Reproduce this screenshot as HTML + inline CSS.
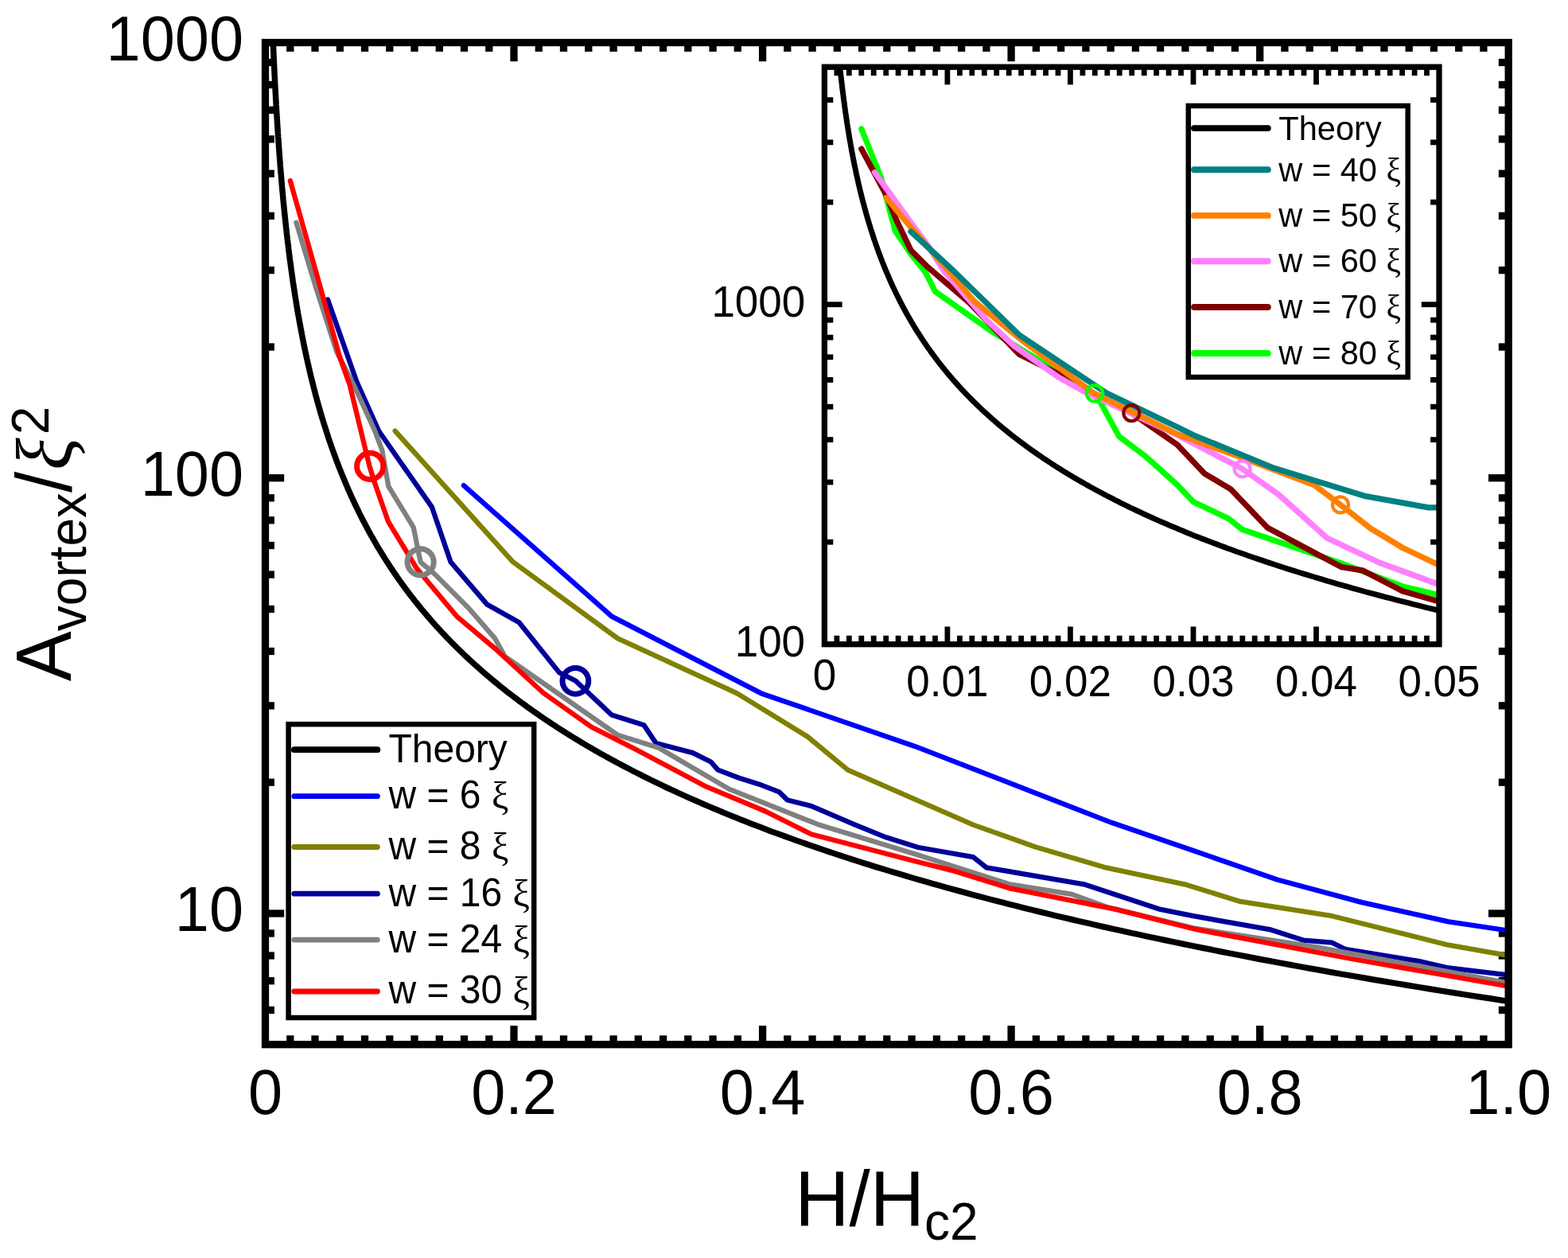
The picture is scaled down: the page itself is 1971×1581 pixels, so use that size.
<!DOCTYPE html>
<html><head><meta charset="utf-8"><title>A_vortex vs H/Hc2</title>
<style>
html,body{margin:0;padding:0;background:#fff;}
body{width:1971px;height:1581px;overflow:hidden;}
svg{display:block;}
</style></head>
<body>
<svg width="1971" height="1581" viewBox="0 0 1971 1581">
<defs>
<clipPath id="mclip"><rect x="333.5" y="53.5" width="1562.7" height="1259.2"/></clipPath>
<clipPath id="iclip"><rect x="1036.4" y="84.2" width="772.6" height="725.5"/></clipPath>
</defs>
<rect width="1971" height="1581" fill="#fff"/>
<line x1="364.8" y1="1312.7" x2="364.8" y2="1301.3" stroke="#000" stroke-width="9.3" stroke-linecap="butt"/>
<line x1="364.8" y1="53.5" x2="364.8" y2="64.9" stroke="#000" stroke-width="9.3" stroke-linecap="butt"/>
<line x1="396" y1="1312.7" x2="396" y2="1301.3" stroke="#000" stroke-width="9.3" stroke-linecap="butt"/>
<line x1="396" y1="53.5" x2="396" y2="64.9" stroke="#000" stroke-width="9.3" stroke-linecap="butt"/>
<line x1="427.3" y1="1312.7" x2="427.3" y2="1301.3" stroke="#000" stroke-width="9.3" stroke-linecap="butt"/>
<line x1="427.3" y1="53.5" x2="427.3" y2="64.9" stroke="#000" stroke-width="9.3" stroke-linecap="butt"/>
<line x1="458.5" y1="1312.7" x2="458.5" y2="1301.3" stroke="#000" stroke-width="9.3" stroke-linecap="butt"/>
<line x1="458.5" y1="53.5" x2="458.5" y2="64.9" stroke="#000" stroke-width="9.3" stroke-linecap="butt"/>
<line x1="489.8" y1="1312.7" x2="489.8" y2="1301.3" stroke="#000" stroke-width="9.3" stroke-linecap="butt"/>
<line x1="489.8" y1="53.5" x2="489.8" y2="64.9" stroke="#000" stroke-width="9.3" stroke-linecap="butt"/>
<line x1="521" y1="1312.7" x2="521" y2="1301.3" stroke="#000" stroke-width="9.3" stroke-linecap="butt"/>
<line x1="521" y1="53.5" x2="521" y2="64.9" stroke="#000" stroke-width="9.3" stroke-linecap="butt"/>
<line x1="552.3" y1="1312.7" x2="552.3" y2="1301.3" stroke="#000" stroke-width="9.3" stroke-linecap="butt"/>
<line x1="552.3" y1="53.5" x2="552.3" y2="64.9" stroke="#000" stroke-width="9.3" stroke-linecap="butt"/>
<line x1="583.5" y1="1312.7" x2="583.5" y2="1301.3" stroke="#000" stroke-width="9.3" stroke-linecap="butt"/>
<line x1="583.5" y1="53.5" x2="583.5" y2="64.9" stroke="#000" stroke-width="9.3" stroke-linecap="butt"/>
<line x1="614.8" y1="1312.7" x2="614.8" y2="1301.3" stroke="#000" stroke-width="9.3" stroke-linecap="butt"/>
<line x1="614.8" y1="53.5" x2="614.8" y2="64.9" stroke="#000" stroke-width="9.3" stroke-linecap="butt"/>
<line x1="646" y1="1312.7" x2="646" y2="1289" stroke="#000" stroke-width="9.3" stroke-linecap="butt"/>
<line x1="646" y1="53.5" x2="646" y2="77.2" stroke="#000" stroke-width="9.3" stroke-linecap="butt"/>
<line x1="677.3" y1="1312.7" x2="677.3" y2="1301.3" stroke="#000" stroke-width="9.3" stroke-linecap="butt"/>
<line x1="677.3" y1="53.5" x2="677.3" y2="64.9" stroke="#000" stroke-width="9.3" stroke-linecap="butt"/>
<line x1="708.5" y1="1312.7" x2="708.5" y2="1301.3" stroke="#000" stroke-width="9.3" stroke-linecap="butt"/>
<line x1="708.5" y1="53.5" x2="708.5" y2="64.9" stroke="#000" stroke-width="9.3" stroke-linecap="butt"/>
<line x1="739.8" y1="1312.7" x2="739.8" y2="1301.3" stroke="#000" stroke-width="9.3" stroke-linecap="butt"/>
<line x1="739.8" y1="53.5" x2="739.8" y2="64.9" stroke="#000" stroke-width="9.3" stroke-linecap="butt"/>
<line x1="771.1" y1="1312.7" x2="771.1" y2="1301.3" stroke="#000" stroke-width="9.3" stroke-linecap="butt"/>
<line x1="771.1" y1="53.5" x2="771.1" y2="64.9" stroke="#000" stroke-width="9.3" stroke-linecap="butt"/>
<line x1="802.3" y1="1312.7" x2="802.3" y2="1301.3" stroke="#000" stroke-width="9.3" stroke-linecap="butt"/>
<line x1="802.3" y1="53.5" x2="802.3" y2="64.9" stroke="#000" stroke-width="9.3" stroke-linecap="butt"/>
<line x1="833.6" y1="1312.7" x2="833.6" y2="1301.3" stroke="#000" stroke-width="9.3" stroke-linecap="butt"/>
<line x1="833.6" y1="53.5" x2="833.6" y2="64.9" stroke="#000" stroke-width="9.3" stroke-linecap="butt"/>
<line x1="864.8" y1="1312.7" x2="864.8" y2="1301.3" stroke="#000" stroke-width="9.3" stroke-linecap="butt"/>
<line x1="864.8" y1="53.5" x2="864.8" y2="64.9" stroke="#000" stroke-width="9.3" stroke-linecap="butt"/>
<line x1="896.1" y1="1312.7" x2="896.1" y2="1301.3" stroke="#000" stroke-width="9.3" stroke-linecap="butt"/>
<line x1="896.1" y1="53.5" x2="896.1" y2="64.9" stroke="#000" stroke-width="9.3" stroke-linecap="butt"/>
<line x1="927.3" y1="1312.7" x2="927.3" y2="1301.3" stroke="#000" stroke-width="9.3" stroke-linecap="butt"/>
<line x1="927.3" y1="53.5" x2="927.3" y2="64.9" stroke="#000" stroke-width="9.3" stroke-linecap="butt"/>
<line x1="958.6" y1="1312.7" x2="958.6" y2="1289" stroke="#000" stroke-width="9.3" stroke-linecap="butt"/>
<line x1="958.6" y1="53.5" x2="958.6" y2="77.2" stroke="#000" stroke-width="9.3" stroke-linecap="butt"/>
<line x1="989.8" y1="1312.7" x2="989.8" y2="1301.3" stroke="#000" stroke-width="9.3" stroke-linecap="butt"/>
<line x1="989.8" y1="53.5" x2="989.8" y2="64.9" stroke="#000" stroke-width="9.3" stroke-linecap="butt"/>
<line x1="1021.1" y1="1312.7" x2="1021.1" y2="1301.3" stroke="#000" stroke-width="9.3" stroke-linecap="butt"/>
<line x1="1021.1" y1="53.5" x2="1021.1" y2="64.9" stroke="#000" stroke-width="9.3" stroke-linecap="butt"/>
<line x1="1052.3" y1="1312.7" x2="1052.3" y2="1301.3" stroke="#000" stroke-width="9.3" stroke-linecap="butt"/>
<line x1="1052.3" y1="53.5" x2="1052.3" y2="64.9" stroke="#000" stroke-width="9.3" stroke-linecap="butt"/>
<line x1="1083.6" y1="1312.7" x2="1083.6" y2="1301.3" stroke="#000" stroke-width="9.3" stroke-linecap="butt"/>
<line x1="1083.6" y1="53.5" x2="1083.6" y2="64.9" stroke="#000" stroke-width="9.3" stroke-linecap="butt"/>
<line x1="1114.8" y1="1312.7" x2="1114.8" y2="1301.3" stroke="#000" stroke-width="9.3" stroke-linecap="butt"/>
<line x1="1114.8" y1="53.5" x2="1114.8" y2="64.9" stroke="#000" stroke-width="9.3" stroke-linecap="butt"/>
<line x1="1146.1" y1="1312.7" x2="1146.1" y2="1301.3" stroke="#000" stroke-width="9.3" stroke-linecap="butt"/>
<line x1="1146.1" y1="53.5" x2="1146.1" y2="64.9" stroke="#000" stroke-width="9.3" stroke-linecap="butt"/>
<line x1="1177.4" y1="1312.7" x2="1177.4" y2="1301.3" stroke="#000" stroke-width="9.3" stroke-linecap="butt"/>
<line x1="1177.4" y1="53.5" x2="1177.4" y2="64.9" stroke="#000" stroke-width="9.3" stroke-linecap="butt"/>
<line x1="1208.6" y1="1312.7" x2="1208.6" y2="1301.3" stroke="#000" stroke-width="9.3" stroke-linecap="butt"/>
<line x1="1208.6" y1="53.5" x2="1208.6" y2="64.9" stroke="#000" stroke-width="9.3" stroke-linecap="butt"/>
<line x1="1239.9" y1="1312.7" x2="1239.9" y2="1301.3" stroke="#000" stroke-width="9.3" stroke-linecap="butt"/>
<line x1="1239.9" y1="53.5" x2="1239.9" y2="64.9" stroke="#000" stroke-width="9.3" stroke-linecap="butt"/>
<line x1="1271.1" y1="1312.7" x2="1271.1" y2="1289" stroke="#000" stroke-width="9.3" stroke-linecap="butt"/>
<line x1="1271.1" y1="53.5" x2="1271.1" y2="77.2" stroke="#000" stroke-width="9.3" stroke-linecap="butt"/>
<line x1="1302.4" y1="1312.7" x2="1302.4" y2="1301.3" stroke="#000" stroke-width="9.3" stroke-linecap="butt"/>
<line x1="1302.4" y1="53.5" x2="1302.4" y2="64.9" stroke="#000" stroke-width="9.3" stroke-linecap="butt"/>
<line x1="1333.6" y1="1312.7" x2="1333.6" y2="1301.3" stroke="#000" stroke-width="9.3" stroke-linecap="butt"/>
<line x1="1333.6" y1="53.5" x2="1333.6" y2="64.9" stroke="#000" stroke-width="9.3" stroke-linecap="butt"/>
<line x1="1364.9" y1="1312.7" x2="1364.9" y2="1301.3" stroke="#000" stroke-width="9.3" stroke-linecap="butt"/>
<line x1="1364.9" y1="53.5" x2="1364.9" y2="64.9" stroke="#000" stroke-width="9.3" stroke-linecap="butt"/>
<line x1="1396.1" y1="1312.7" x2="1396.1" y2="1301.3" stroke="#000" stroke-width="9.3" stroke-linecap="butt"/>
<line x1="1396.1" y1="53.5" x2="1396.1" y2="64.9" stroke="#000" stroke-width="9.3" stroke-linecap="butt"/>
<line x1="1427.4" y1="1312.7" x2="1427.4" y2="1301.3" stroke="#000" stroke-width="9.3" stroke-linecap="butt"/>
<line x1="1427.4" y1="53.5" x2="1427.4" y2="64.9" stroke="#000" stroke-width="9.3" stroke-linecap="butt"/>
<line x1="1458.6" y1="1312.7" x2="1458.6" y2="1301.3" stroke="#000" stroke-width="9.3" stroke-linecap="butt"/>
<line x1="1458.6" y1="53.5" x2="1458.6" y2="64.9" stroke="#000" stroke-width="9.3" stroke-linecap="butt"/>
<line x1="1489.9" y1="1312.7" x2="1489.9" y2="1301.3" stroke="#000" stroke-width="9.3" stroke-linecap="butt"/>
<line x1="1489.9" y1="53.5" x2="1489.9" y2="64.9" stroke="#000" stroke-width="9.3" stroke-linecap="butt"/>
<line x1="1521.2" y1="1312.7" x2="1521.2" y2="1301.3" stroke="#000" stroke-width="9.3" stroke-linecap="butt"/>
<line x1="1521.2" y1="53.5" x2="1521.2" y2="64.9" stroke="#000" stroke-width="9.3" stroke-linecap="butt"/>
<line x1="1552.4" y1="1312.7" x2="1552.4" y2="1301.3" stroke="#000" stroke-width="9.3" stroke-linecap="butt"/>
<line x1="1552.4" y1="53.5" x2="1552.4" y2="64.9" stroke="#000" stroke-width="9.3" stroke-linecap="butt"/>
<line x1="1583.7" y1="1312.7" x2="1583.7" y2="1289" stroke="#000" stroke-width="9.3" stroke-linecap="butt"/>
<line x1="1583.7" y1="53.5" x2="1583.7" y2="77.2" stroke="#000" stroke-width="9.3" stroke-linecap="butt"/>
<line x1="1614.9" y1="1312.7" x2="1614.9" y2="1301.3" stroke="#000" stroke-width="9.3" stroke-linecap="butt"/>
<line x1="1614.9" y1="53.5" x2="1614.9" y2="64.9" stroke="#000" stroke-width="9.3" stroke-linecap="butt"/>
<line x1="1646.2" y1="1312.7" x2="1646.2" y2="1301.3" stroke="#000" stroke-width="9.3" stroke-linecap="butt"/>
<line x1="1646.2" y1="53.5" x2="1646.2" y2="64.9" stroke="#000" stroke-width="9.3" stroke-linecap="butt"/>
<line x1="1677.4" y1="1312.7" x2="1677.4" y2="1301.3" stroke="#000" stroke-width="9.3" stroke-linecap="butt"/>
<line x1="1677.4" y1="53.5" x2="1677.4" y2="64.9" stroke="#000" stroke-width="9.3" stroke-linecap="butt"/>
<line x1="1708.7" y1="1312.7" x2="1708.7" y2="1301.3" stroke="#000" stroke-width="9.3" stroke-linecap="butt"/>
<line x1="1708.7" y1="53.5" x2="1708.7" y2="64.9" stroke="#000" stroke-width="9.3" stroke-linecap="butt"/>
<line x1="1739.9" y1="1312.7" x2="1739.9" y2="1301.3" stroke="#000" stroke-width="9.3" stroke-linecap="butt"/>
<line x1="1739.9" y1="53.5" x2="1739.9" y2="64.9" stroke="#000" stroke-width="9.3" stroke-linecap="butt"/>
<line x1="1771.2" y1="1312.7" x2="1771.2" y2="1301.3" stroke="#000" stroke-width="9.3" stroke-linecap="butt"/>
<line x1="1771.2" y1="53.5" x2="1771.2" y2="64.9" stroke="#000" stroke-width="9.3" stroke-linecap="butt"/>
<line x1="1802.4" y1="1312.7" x2="1802.4" y2="1301.3" stroke="#000" stroke-width="9.3" stroke-linecap="butt"/>
<line x1="1802.4" y1="53.5" x2="1802.4" y2="64.9" stroke="#000" stroke-width="9.3" stroke-linecap="butt"/>
<line x1="1833.7" y1="1312.7" x2="1833.7" y2="1301.3" stroke="#000" stroke-width="9.3" stroke-linecap="butt"/>
<line x1="1833.7" y1="53.5" x2="1833.7" y2="64.9" stroke="#000" stroke-width="9.3" stroke-linecap="butt"/>
<line x1="1864.9" y1="1312.7" x2="1864.9" y2="1301.3" stroke="#000" stroke-width="9.3" stroke-linecap="butt"/>
<line x1="1864.9" y1="53.5" x2="1864.9" y2="64.9" stroke="#000" stroke-width="9.3" stroke-linecap="butt"/>
<line x1="333.5" y1="1269.4" x2="344.9" y2="1269.4" stroke="#000" stroke-width="9.3" stroke-linecap="butt"/>
<line x1="1896.2" y1="1269.4" x2="1883.8" y2="1269.4" stroke="#000" stroke-width="9.3" stroke-linecap="butt"/>
<line x1="333.5" y1="1232.7" x2="344.9" y2="1232.7" stroke="#000" stroke-width="9.3" stroke-linecap="butt"/>
<line x1="1896.2" y1="1232.7" x2="1883.8" y2="1232.7" stroke="#000" stroke-width="9.3" stroke-linecap="butt"/>
<line x1="333.5" y1="1201" x2="344.9" y2="1201" stroke="#000" stroke-width="9.3" stroke-linecap="butt"/>
<line x1="1896.2" y1="1201" x2="1883.8" y2="1201" stroke="#000" stroke-width="9.3" stroke-linecap="butt"/>
<line x1="333.5" y1="1173" x2="344.9" y2="1173" stroke="#000" stroke-width="9.3" stroke-linecap="butt"/>
<line x1="1896.2" y1="1173" x2="1883.8" y2="1173" stroke="#000" stroke-width="9.3" stroke-linecap="butt"/>
<line x1="333.5" y1="1148" x2="357.2" y2="1148" stroke="#000" stroke-width="9.3" stroke-linecap="butt"/>
<line x1="1896.2" y1="1148" x2="1871" y2="1148" stroke="#000" stroke-width="9.3" stroke-linecap="butt"/>
<line x1="333.5" y1="983.2" x2="344.9" y2="983.2" stroke="#000" stroke-width="9.3" stroke-linecap="butt"/>
<line x1="1896.2" y1="983.2" x2="1883.8" y2="983.2" stroke="#000" stroke-width="9.3" stroke-linecap="butt"/>
<line x1="333.5" y1="886.9" x2="344.9" y2="886.9" stroke="#000" stroke-width="9.3" stroke-linecap="butt"/>
<line x1="1896.2" y1="886.9" x2="1883.8" y2="886.9" stroke="#000" stroke-width="9.3" stroke-linecap="butt"/>
<line x1="333.5" y1="818.5" x2="344.9" y2="818.5" stroke="#000" stroke-width="9.3" stroke-linecap="butt"/>
<line x1="1896.2" y1="818.5" x2="1883.8" y2="818.5" stroke="#000" stroke-width="9.3" stroke-linecap="butt"/>
<line x1="333.5" y1="765.5" x2="344.9" y2="765.5" stroke="#000" stroke-width="9.3" stroke-linecap="butt"/>
<line x1="1896.2" y1="765.5" x2="1883.8" y2="765.5" stroke="#000" stroke-width="9.3" stroke-linecap="butt"/>
<line x1="333.5" y1="722.1" x2="344.9" y2="722.1" stroke="#000" stroke-width="9.3" stroke-linecap="butt"/>
<line x1="1896.2" y1="722.1" x2="1883.8" y2="722.1" stroke="#000" stroke-width="9.3" stroke-linecap="butt"/>
<line x1="333.5" y1="685.5" x2="344.9" y2="685.5" stroke="#000" stroke-width="9.3" stroke-linecap="butt"/>
<line x1="1896.2" y1="685.5" x2="1883.8" y2="685.5" stroke="#000" stroke-width="9.3" stroke-linecap="butt"/>
<line x1="333.5" y1="653.8" x2="344.9" y2="653.8" stroke="#000" stroke-width="9.3" stroke-linecap="butt"/>
<line x1="1896.2" y1="653.8" x2="1883.8" y2="653.8" stroke="#000" stroke-width="9.3" stroke-linecap="butt"/>
<line x1="333.5" y1="625.8" x2="344.9" y2="625.8" stroke="#000" stroke-width="9.3" stroke-linecap="butt"/>
<line x1="1896.2" y1="625.8" x2="1883.8" y2="625.8" stroke="#000" stroke-width="9.3" stroke-linecap="butt"/>
<line x1="333.5" y1="600.7" x2="357.2" y2="600.7" stroke="#000" stroke-width="9.3" stroke-linecap="butt"/>
<line x1="1896.2" y1="600.7" x2="1871" y2="600.7" stroke="#000" stroke-width="9.3" stroke-linecap="butt"/>
<line x1="333.5" y1="436" x2="344.9" y2="436" stroke="#000" stroke-width="9.3" stroke-linecap="butt"/>
<line x1="1896.2" y1="436" x2="1883.8" y2="436" stroke="#000" stroke-width="9.3" stroke-linecap="butt"/>
<line x1="333.5" y1="339.6" x2="344.9" y2="339.6" stroke="#000" stroke-width="9.3" stroke-linecap="butt"/>
<line x1="1896.2" y1="339.6" x2="1883.8" y2="339.6" stroke="#000" stroke-width="9.3" stroke-linecap="butt"/>
<line x1="333.5" y1="271.3" x2="344.9" y2="271.3" stroke="#000" stroke-width="9.3" stroke-linecap="butt"/>
<line x1="1896.2" y1="271.3" x2="1883.8" y2="271.3" stroke="#000" stroke-width="9.3" stroke-linecap="butt"/>
<line x1="333.5" y1="218.2" x2="344.9" y2="218.2" stroke="#000" stroke-width="9.3" stroke-linecap="butt"/>
<line x1="1896.2" y1="218.2" x2="1883.8" y2="218.2" stroke="#000" stroke-width="9.3" stroke-linecap="butt"/>
<line x1="333.5" y1="174.9" x2="344.9" y2="174.9" stroke="#000" stroke-width="9.3" stroke-linecap="butt"/>
<line x1="1896.2" y1="174.9" x2="1883.8" y2="174.9" stroke="#000" stroke-width="9.3" stroke-linecap="butt"/>
<line x1="333.5" y1="138.3" x2="344.9" y2="138.3" stroke="#000" stroke-width="9.3" stroke-linecap="butt"/>
<line x1="1896.2" y1="138.3" x2="1883.8" y2="138.3" stroke="#000" stroke-width="9.3" stroke-linecap="butt"/>
<line x1="333.5" y1="106.5" x2="344.9" y2="106.5" stroke="#000" stroke-width="9.3" stroke-linecap="butt"/>
<line x1="1896.2" y1="106.5" x2="1883.8" y2="106.5" stroke="#000" stroke-width="9.3" stroke-linecap="butt"/>
<line x1="333.5" y1="78.5" x2="344.9" y2="78.5" stroke="#000" stroke-width="9.3" stroke-linecap="butt"/>
<line x1="1896.2" y1="78.5" x2="1883.8" y2="78.5" stroke="#000" stroke-width="9.3" stroke-linecap="butt"/>
<g clip-path="url(#mclip)">
<path d="M343.3 53.5 L343.4 55.9 L343.5 58.2 L343.6 60.6 L343.7 63 L343.8 65.3 L343.9 67.7 L344 70.1 L344.1 72.4 L344.2 74.8 L344.3 77.1 L344.5 79.5 L344.6 81.9 L344.7 84.2 L344.8 86.6 L344.9 89 L345 91.3 L345.1 93.7 L345.2 96.1 L345.4 98.4 L345.5 100.8 L345.6 103.2 L345.7 105.5 L345.8 107.9 L346 110.3 L346.1 112.6 L346.2 115 L346.3 117.3 L346.5 119.7 L346.6 122.1 L346.7 124.4 L346.9 126.8 L347 129.2 L347.1 131.5 L347.3 133.9 L347.4 136.3 L347.5 138.6 L347.7 141 L347.8 143.4 L348 145.7 L348.1 148.1 L348.3 150.5 L348.4 152.8 L348.6 155.2 L348.7 157.6 L348.9 159.9 L349 162.3 L349.2 164.6 L349.3 167 L349.5 169.4 L349.6 171.7 L349.8 174.1 L350 176.5 L350.1 178.8 L350.3 181.2 L350.5 183.6 L350.6 185.9 L350.8 188.3 L351 190.7 L351.2 193 L351.3 195.4 L351.5 197.8 L351.7 200.1 L351.9 202.5 L352.1 204.8 L352.2 207.2 L352.4 209.6 L352.6 211.9 L352.8 214.3 L353 216.7 L353.2 219 L353.4 221.4 L353.6 223.8 L353.8 226.1 L354 228.5 L354.2 230.9 L354.4 233.2 L354.6 235.6 L354.8 238 L355 240.3 L355.3 242.7 L355.5 245 L355.7 247.4 L355.9 249.8 L356.1 252.1 L356.4 254.5 L356.6 256.9 L356.8 259.2 L357.1 261.6 L357.3 264 L357.5 266.3 L357.8 268.7 L358 271.1 L358.3 273.4 L358.5 275.8 L358.8 278.2 L359 280.5 L359.3 282.9 L359.5 285.3 L359.8 287.6 L360.1 290 L360.3 292.3 L360.6 294.7 L360.9 297.1 L361.1 299.4 L361.4 301.8 L361.7 304.2 L362 306.5 L362.3 308.9 L362.5 311.3 L362.8 313.6 L363.1 316 L363.4 318.4 L363.7 320.7 L364 323.1 L364.3 325.5 L364.6 327.8 L365 330.2 L365.3 332.5 L365.6 334.9 L365.9 337.3 L366.2 339.6 L366.6 342 L366.9 344.4 L367.2 346.7 L367.6 349.1 L367.9 351.5 L368.2 353.8 L368.6 356.2 L368.9 358.6 L369.3 360.9 L369.7 363.3 L370 365.7 L370.4 368 L370.7 370.4 L371.1 372.7 L371.5 375.1 L371.9 377.5 L372.3 379.8 L372.6 382.2 L373 384.6 L373.4 386.9 L373.8 389.3 L374.2 391.7 L374.6 394 L375.1 396.4 L375.5 398.8 L375.9 401.1 L376.3 403.5 L376.7 405.9 L377.2 408.2 L377.6 410.6 L378.1 412.9 L378.5 415.3 L379 417.7 L379.4 420 L379.9 422.4 L380.3 424.8 L380.8 427.1 L381.3 429.5 L381.7 431.9 L382.2 434.2 L382.7 436.6 L383.2 439 L383.7 441.3 L384.2 443.7 L384.7 446.1 L385.2 448.4 L385.7 450.8 L386.3 453.2 L386.8 455.5 L387.3 457.9 L387.9 460.2 L388.4 462.6 L389 465 L389.5 467.3 L390.1 469.7 L390.6 472.1 L391.2 474.4 L391.8 476.8 L392.4 479.2 L393 481.5 L393.6 483.9 L394.2 486.3 L394.8 488.6 L395.4 491 L396 493.4 L396.6 495.7 L397.2 498.1 L397.9 500.4 L398.5 502.8 L399.2 505.2 L399.8 507.5 L400.5 509.9 L401.2 512.3 L401.8 514.6 L402.5 517 L403.2 519.4 L403.9 521.7 L404.6 524.1 L405.3 526.5 L406.1 528.8 L406.8 531.2 L407.5 533.6 L408.3 535.9 L409 538.3 L409.8 540.6 L410.5 543 L411.3 545.4 L412.1 547.7 L412.8 550.1 L413.6 552.5 L414.4 554.8 L415.3 557.2 L416.1 559.6 L416.9 561.9 L417.7 564.3 L418.6 566.7 L419.4 569 L420.3 571.4 L421.2 573.8 L422 576.1 L422.9 578.5 L423.8 580.9 L424.7 583.2 L425.6 585.6 L426.5 587.9 L427.5 590.3 L428.4 592.7 L429.4 595 L430.3 597.4 L431.3 599.8 L432.3 602.1 L433.3 604.5 L434.3 606.9 L435.3 609.2 L436.3 611.6 L437.3 614 L438.3 616.3 L439.4 618.7 L440.5 621.1 L441.5 623.4 L442.6 625.8 L443.7 628.1 L444.8 630.5 L445.9 632.9 L447 635.2 L448.2 637.6 L449.3 640 L450.5 642.3 L451.6 644.7 L452.8 647.1 L454 649.4 L455.2 651.8 L456.4 654.2 L457.7 656.5 L458.9 658.9 L460.2 661.3 L461.4 663.6 L462.7 666 L464 668.3 L465.3 670.7 L466.6 673.1 L468 675.4 L469.3 677.8 L470.7 680.2 L472 682.5 L473.4 684.9 L474.8 687.3 L476.2 689.6 L477.7 692 L479.1 694.4 L480.6 696.7 L482 699.1 L483.5 701.5 L485 703.8 L486.5 706.2 L488.1 708.5 L489.6 710.9 L491.2 713.3 L492.7 715.6 L494.3 718 L495.9 720.4 L497.6 722.7 L499.2 725.1 L500.9 727.5 L502.5 729.8 L504.2 732.2 L505.9 734.6 L507.7 736.9 L509.4 739.3 L511.2 741.7 L512.9 744 L514.7 746.4 L516.5 748.8 L518.4 751.1 L520.2 753.5 L522.1 755.8 L524 758.2 L525.9 760.6 L527.8 762.9 L529.7 765.3 L531.7 767.7 L533.7 770 L535.7 772.4 L537.7 774.8 L539.8 777.1 L541.8 779.5 L543.9 781.9 L546 784.2 L548.1 786.6 L550.3 789 L552.4 791.3 L554.6 793.7 L556.8 796 L559.1 798.4 L561.3 800.8 L563.6 803.1 L565.9 805.5 L568.2 807.9 L570.6 810.2 L573 812.6 L575.3 815 L577.8 817.3 L580.2 819.7 L582.7 822.1 L585.2 824.4 L587.7 826.8 L590.2 829.2 L592.8 831.5 L595.4 833.9 L598 836.2 L600.6 838.6 L603.3 841 L606 843.3 L608.7 845.7 L611.5 848.1 L614.3 850.4 L617.1 852.8 L619.9 855.2 L622.8 857.5 L625.7 859.9 L628.6 862.3 L631.5 864.6 L634.5 867 L637.5 869.4 L640.6 871.7 L643.7 874.1 L646.8 876.5 L649.9 878.8 L653 881.2 L656.2 883.5 L659.5 885.9 L662.7 888.3 L666 890.6 L669.3 893 L672.7 895.4 L676.1 897.7 L679.5 900.1 L683 902.5 L686.5 904.8 L690 907.2 L693.6 909.6 L697.2 911.9 L700.8 914.3 L704.5 916.7 L708.2 919 L711.9 921.4 L715.7 923.7 L719.5 926.1 L723.4 928.5 L727.3 930.8 L731.2 933.2 L735.2 935.6 L739.2 937.9 L743.3 940.3 L747.4 942.7 L751.5 945 L755.7 947.4 L759.9 949.8 L764.2 952.1 L768.5 954.5 L772.9 956.9 L777.3 959.2 L781.7 961.6 L786.2 963.9 L790.7 966.3 L795.3 968.7 L799.9 971 L804.6 973.4 L809.3 975.8 L814 978.1 L818.8 980.5 L823.7 982.9 L828.6 985.2 L833.5 987.6 L838.5 990 L843.6 992.3 L848.7 994.7 L853.8 997.1 L859 999.4 L864.3 1001.8 L869.6 1004.1 L875 1006.5 L880.4 1008.9 L885.8 1011.2 L891.4 1013.6 L896.9 1016 L902.6 1018.3 L908.3 1020.7 L914 1023.1 L919.8 1025.4 L925.7 1027.8 L931.6 1030.2 L937.6 1032.5 L943.6 1034.9 L949.7 1037.3 L955.9 1039.6 L962.1 1042 L968.4 1044.4 L974.8 1046.7 L981.2 1049.1 L987.6 1051.4 L994.2 1053.8 L1000.8 1056.2 L1007.5 1058.5 L1014.2 1060.9 L1021 1063.3 L1027.9 1065.6 L1034.8 1068 L1041.8 1070.4 L1048.9 1072.7 L1056.1 1075.1 L1063.3 1077.5 L1070.6 1079.8 L1078 1082.2 L1085.4 1084.6 L1092.9 1086.9 L1100.5 1089.3 L1108.2 1091.6 L1116 1094 L1123.8 1096.4 L1131.7 1098.7 L1139.7 1101.1 L1147.7 1103.5 L1155.9 1105.8 L1164.1 1108.2 L1172.4 1110.6 L1180.8 1112.9 L1189.3 1115.3 L1197.8 1117.7 L1206.5 1120 L1215.2 1122.4 L1224 1124.8 L1232.9 1127.1 L1241.9 1129.5 L1251 1131.8 L1260.2 1134.2 L1269.4 1136.6 L1278.8 1138.9 L1288.2 1141.3 L1297.8 1143.7 L1307.4 1146 L1317.2 1148.4 L1327 1150.8 L1336.9 1153.1 L1347 1155.5 L1357.1 1157.9 L1367.4 1160.2 L1377.7 1162.6 L1388.1 1165 L1398.7 1167.3 L1409.3 1169.7 L1420.1 1172.1 L1431 1174.4 L1441.9 1176.8 L1453 1179.1 L1464.2 1181.5 L1475.5 1183.9 L1486.9 1186.2 L1498.5 1188.6 L1510.1 1191 L1521.9 1193.3 L1533.8 1195.7 L1545.8 1198.1 L1557.9 1200.4 L1570.1 1202.8 L1582.5 1205.2 L1595 1207.5 L1607.6 1209.9 L1620.4 1212.3 L1633.2 1214.6 L1646.2 1217 L1659.3 1219.3 L1672.6 1221.7 L1686 1224.1 L1699.5 1226.4 L1713.2 1228.8 L1727 1231.2 L1740.9 1233.5 L1755 1235.9 L1769.2 1238.3 L1783.6 1240.6 L1798.1 1243 L1812.7 1245.4 L1827.5 1247.7 L1842.4 1250.1 L1857.5 1252.5 L1872.8 1254.8 L1888.2 1257.2 L1896.2 1258.4" fill="none" stroke="#000" stroke-width="7.5" stroke-linejoin="round" stroke-linecap="round"/>
<path d="M582.9 610.1 L768.9 774.6 L956.9 871.4 L1150 937.9 L1397.9 1034.1 L1500 1069 L1605.5 1105.5 L1711.1 1133.9 L1820.9 1158.3 L1895.7 1169.5" fill="none" stroke="#0000FF" stroke-width="6.3" stroke-linejoin="round" stroke-linecap="round"/>
<path d="M496.6 541.6 L644.9 706.3 L776.5 802.4 L926.5 871.4 L1015 925.8 L1065.7 967.6 L1223.4 1036.6 L1301.8 1064.5 L1387.8 1089.8 L1489 1111.3 L1558.9 1132.9 L1674.5 1151.2 L1820.6 1187.7 L1895.7 1200.9" fill="none" stroke="#808000" stroke-width="6.3" stroke-linejoin="round" stroke-linecap="round"/>
<path d="M411.9 376.4 L448.6 480.2 L476.2 541.8 L543 637.4 L566.5 706.3 L612 759.4 L652.5 782.2 L703.1 845.4 L723.4 855.5 L768.9 898.5 L809.4 911.2 L824.6 934 L870.8 946.1 L893.6 957.5 L902.5 967.6 L929 977.7 L956.9 986.6 L979.6 995.4 L989.8 1005.5 L1020.1 1013.1 L1073.2 1035.9 L1113.7 1052.3 L1154.2 1065 L1223.4 1077.1 L1239.8 1090.3 L1362.5 1111.3 L1458.7 1142.9 L1500 1151.2 L1597.4 1168.4 L1638 1181.6 L1674.5 1184.7 L1690.8 1192.8 L1784.1 1208 L1818.6 1216.1 L1895.7 1225.3" fill="none" stroke="#000099" stroke-width="6.3" stroke-linejoin="round" stroke-linecap="round"/>
<path d="M372.4 279.7 L396.7 360 L423.3 442.2 L446 486.5 L471.1 541.3 L480.2 565.5 L488.3 611.1 L519.7 662.7 L528.6 706.3 L546.3 721.4 L589.3 764.5 L622.2 802.4 L634.8 825.2 L776.5 923.8 L827.8 939.8 L916.4 991.6 L1027.7 1035.9 L1150 1073.3 L1268.9 1111.3 L1347.3 1123.9 L1392.9 1140.4 L1500 1166.4 L1658.3 1190.8 L1895.7 1235.4" fill="none" stroke="#808080" stroke-width="6.3" stroke-linejoin="round" stroke-linecap="round"/>
<path d="M364.8 227.2 L402.4 360 L427 448.6 L439.7 484 L464.3 585.3 L470.4 605.1 L488.1 655.7 L523.5 713.9 L574.1 774.6 L622.2 815 L682.9 870.7 L743.6 913.7 L800 942.3 L886 987.8 L961.9 1019.5 L1020.1 1048.5 L1150 1082.2 L1195.5 1093.6 L1268.9 1116.3 L1403 1142.9 L1504.2 1168.2 L1698.9 1205 L1895.7 1239.5" fill="none" stroke="#FF0000" stroke-width="6.3" stroke-linejoin="round" stroke-linecap="round"/>
</g>
<circle cx="465.2" cy="585.9" r="16.6" fill="none" stroke="#FF0000" stroke-width="7"/>
<circle cx="528.6" cy="706.3" r="16.6" fill="none" stroke="#808080" stroke-width="7"/>
<circle cx="723.4" cy="855.8" r="16.4" fill="none" stroke="#000099" stroke-width="7"/>
<rect x="333.5" y="53.5" width="1562.7" height="1259.2" fill="none" stroke="#000" stroke-width="9.3"/>
<text transform="translate(306,75.6) scale(1,1.032)" font-size="77.5" text-anchor="end" font-family="'Liberation Sans', Arial, sans-serif">1000</text>
<text transform="translate(306,622.8) scale(1,1.032)" font-size="77.5" text-anchor="end" font-family="'Liberation Sans', Arial, sans-serif">100</text>
<text transform="translate(306,1170.2) scale(1,1.032)" font-size="77.5" text-anchor="end" font-family="'Liberation Sans', Arial, sans-serif">10</text>
<text transform="translate(333.5,1400.2) scale(1,1.032)" font-size="77.5" text-anchor="middle" font-family="'Liberation Sans', Arial, sans-serif">0</text>
<text transform="translate(646,1400.2) scale(1,1.032)" font-size="77.5" text-anchor="middle" font-family="'Liberation Sans', Arial, sans-serif">0.2</text>
<text transform="translate(958.6,1400.2) scale(1,1.032)" font-size="77.5" text-anchor="middle" font-family="'Liberation Sans', Arial, sans-serif">0.4</text>
<text transform="translate(1271.1,1400.2) scale(1,1.032)" font-size="77.5" text-anchor="middle" font-family="'Liberation Sans', Arial, sans-serif">0.6</text>
<text transform="translate(1583.7,1400.2) scale(1,1.032)" font-size="77.5" text-anchor="middle" font-family="'Liberation Sans', Arial, sans-serif">0.8</text>
<text transform="translate(1896.2,1400.2) scale(1,1.032)" font-size="77.5" text-anchor="middle" font-family="'Liberation Sans', Arial, sans-serif">1.0</text>
<text transform="translate(999.2,1539.8) scale(1,1.042)" font-size="94.5" font-family="'Liberation Sans', Arial, sans-serif">H/H<tspan font-size="64" dy="17.6">c2</tspan></text>
<text transform="translate(88.8,856.3) rotate(-90) scale(1,1.045)" font-size="94.5" font-family="'Liberation Sans', Arial, sans-serif">A<tspan font-size="64" dy="18.8">vortex</tspan><tspan dy="-18.8">/</tspan><tspan font-family="'Liberation Serif', 'Times New Roman', serif" font-style="italic" dx="2">&#958;</tspan><tspan font-size="64" dy="-26.5" dx="4">2</tspan></text>
<rect x="362.6" y="910.2" width="308.6" height="368.8" fill="#fff" stroke="#000" stroke-width="6.5"/>
<line x1="369.8" y1="942.2" x2="474.4" y2="942.2" stroke="#000" stroke-width="7.7" stroke-linecap="round"/>
<line x1="369.8" y1="1000.7" x2="474.4" y2="1000.7" stroke="#0000FF" stroke-width="6.8" stroke-linecap="round"/>
<line x1="369.8" y1="1064.5" x2="474.4" y2="1064.5" stroke="#808000" stroke-width="6.8" stroke-linecap="round"/>
<line x1="369.8" y1="1123.2" x2="474.4" y2="1123.2" stroke="#000099" stroke-width="6.8" stroke-linecap="round"/>
<line x1="369.8" y1="1181.1" x2="474.4" y2="1181.1" stroke="#808080" stroke-width="6.8" stroke-linecap="round"/>
<line x1="369.8" y1="1246" x2="474.4" y2="1246" stroke="#FF0000" stroke-width="6.8" stroke-linecap="round"/>
<text transform="translate(488.5,957.7) scale(1,1.04)" font-size="48" text-anchor="start" font-family="'Liberation Sans', Arial, sans-serif">Theory</text>
<text transform="translate(488.5,1016) scale(1,1.03)" font-size="48" font-family="'Liberation Sans', Arial, sans-serif">w = 6 <tspan font-family="'Liberation Serif', 'Times New Roman', serif">&#958;</tspan></text>
<text transform="translate(488.5,1079.8) scale(1,1.03)" font-size="48" font-family="'Liberation Sans', Arial, sans-serif">w = 8 <tspan font-family="'Liberation Serif', 'Times New Roman', serif">&#958;</tspan></text>
<text transform="translate(488.5,1138.6) scale(1,1.03)" font-size="48" font-family="'Liberation Sans', Arial, sans-serif">w = 16 <tspan font-family="'Liberation Serif', 'Times New Roman', serif">&#958;</tspan></text>
<text transform="translate(488.5,1196.6) scale(1,1.03)" font-size="48" font-family="'Liberation Sans', Arial, sans-serif">w = 24 <tspan font-family="'Liberation Serif', 'Times New Roman', serif">&#958;</tspan></text>
<text transform="translate(488.5,1261.4) scale(1,1.03)" font-size="48" font-family="'Liberation Sans', Arial, sans-serif">w = 30 <tspan font-family="'Liberation Serif', 'Times New Roman', serif">&#958;</tspan></text>
<rect x="1036.4" y="84.2" width="772.6" height="725.5" fill="#fff"/>
<line x1="1051.9" y1="809.7" x2="1051.9" y2="798.8" stroke="#000" stroke-width="6.8" stroke-linecap="butt"/>
<line x1="1051.9" y1="84.2" x2="1051.9" y2="95.1" stroke="#000" stroke-width="6.8" stroke-linecap="butt"/>
<line x1="1067.3" y1="809.7" x2="1067.3" y2="798.8" stroke="#000" stroke-width="6.8" stroke-linecap="butt"/>
<line x1="1067.3" y1="84.2" x2="1067.3" y2="95.1" stroke="#000" stroke-width="6.8" stroke-linecap="butt"/>
<line x1="1082.8" y1="809.7" x2="1082.8" y2="798.8" stroke="#000" stroke-width="6.8" stroke-linecap="butt"/>
<line x1="1082.8" y1="84.2" x2="1082.8" y2="95.1" stroke="#000" stroke-width="6.8" stroke-linecap="butt"/>
<line x1="1098.2" y1="809.7" x2="1098.2" y2="798.8" stroke="#000" stroke-width="6.8" stroke-linecap="butt"/>
<line x1="1098.2" y1="84.2" x2="1098.2" y2="95.1" stroke="#000" stroke-width="6.8" stroke-linecap="butt"/>
<line x1="1113.7" y1="809.7" x2="1113.7" y2="798.8" stroke="#000" stroke-width="6.8" stroke-linecap="butt"/>
<line x1="1113.7" y1="84.2" x2="1113.7" y2="95.1" stroke="#000" stroke-width="6.8" stroke-linecap="butt"/>
<line x1="1129.1" y1="809.7" x2="1129.1" y2="798.8" stroke="#000" stroke-width="6.8" stroke-linecap="butt"/>
<line x1="1129.1" y1="84.2" x2="1129.1" y2="95.1" stroke="#000" stroke-width="6.8" stroke-linecap="butt"/>
<line x1="1144.6" y1="809.7" x2="1144.6" y2="798.8" stroke="#000" stroke-width="6.8" stroke-linecap="butt"/>
<line x1="1144.6" y1="84.2" x2="1144.6" y2="95.1" stroke="#000" stroke-width="6.8" stroke-linecap="butt"/>
<line x1="1160" y1="809.7" x2="1160" y2="798.8" stroke="#000" stroke-width="6.8" stroke-linecap="butt"/>
<line x1="1160" y1="84.2" x2="1160" y2="95.1" stroke="#000" stroke-width="6.8" stroke-linecap="butt"/>
<line x1="1175.5" y1="809.7" x2="1175.5" y2="798.8" stroke="#000" stroke-width="6.8" stroke-linecap="butt"/>
<line x1="1175.5" y1="84.2" x2="1175.5" y2="95.1" stroke="#000" stroke-width="6.8" stroke-linecap="butt"/>
<line x1="1190.9" y1="809.7" x2="1190.9" y2="787.5" stroke="#000" stroke-width="6.8" stroke-linecap="butt"/>
<line x1="1190.9" y1="84.2" x2="1190.9" y2="106.4" stroke="#000" stroke-width="6.8" stroke-linecap="butt"/>
<line x1="1206.4" y1="809.7" x2="1206.4" y2="798.8" stroke="#000" stroke-width="6.8" stroke-linecap="butt"/>
<line x1="1206.4" y1="84.2" x2="1206.4" y2="95.1" stroke="#000" stroke-width="6.8" stroke-linecap="butt"/>
<line x1="1221.8" y1="809.7" x2="1221.8" y2="798.8" stroke="#000" stroke-width="6.8" stroke-linecap="butt"/>
<line x1="1221.8" y1="84.2" x2="1221.8" y2="95.1" stroke="#000" stroke-width="6.8" stroke-linecap="butt"/>
<line x1="1237.3" y1="809.7" x2="1237.3" y2="798.8" stroke="#000" stroke-width="6.8" stroke-linecap="butt"/>
<line x1="1237.3" y1="84.2" x2="1237.3" y2="95.1" stroke="#000" stroke-width="6.8" stroke-linecap="butt"/>
<line x1="1252.7" y1="809.7" x2="1252.7" y2="798.8" stroke="#000" stroke-width="6.8" stroke-linecap="butt"/>
<line x1="1252.7" y1="84.2" x2="1252.7" y2="95.1" stroke="#000" stroke-width="6.8" stroke-linecap="butt"/>
<line x1="1268.2" y1="809.7" x2="1268.2" y2="798.8" stroke="#000" stroke-width="6.8" stroke-linecap="butt"/>
<line x1="1268.2" y1="84.2" x2="1268.2" y2="95.1" stroke="#000" stroke-width="6.8" stroke-linecap="butt"/>
<line x1="1283.6" y1="809.7" x2="1283.6" y2="798.8" stroke="#000" stroke-width="6.8" stroke-linecap="butt"/>
<line x1="1283.6" y1="84.2" x2="1283.6" y2="95.1" stroke="#000" stroke-width="6.8" stroke-linecap="butt"/>
<line x1="1299.1" y1="809.7" x2="1299.1" y2="798.8" stroke="#000" stroke-width="6.8" stroke-linecap="butt"/>
<line x1="1299.1" y1="84.2" x2="1299.1" y2="95.1" stroke="#000" stroke-width="6.8" stroke-linecap="butt"/>
<line x1="1314.5" y1="809.7" x2="1314.5" y2="798.8" stroke="#000" stroke-width="6.8" stroke-linecap="butt"/>
<line x1="1314.5" y1="84.2" x2="1314.5" y2="95.1" stroke="#000" stroke-width="6.8" stroke-linecap="butt"/>
<line x1="1330" y1="809.7" x2="1330" y2="798.8" stroke="#000" stroke-width="6.8" stroke-linecap="butt"/>
<line x1="1330" y1="84.2" x2="1330" y2="95.1" stroke="#000" stroke-width="6.8" stroke-linecap="butt"/>
<line x1="1345.4" y1="809.7" x2="1345.4" y2="787.5" stroke="#000" stroke-width="6.8" stroke-linecap="butt"/>
<line x1="1345.4" y1="84.2" x2="1345.4" y2="106.4" stroke="#000" stroke-width="6.8" stroke-linecap="butt"/>
<line x1="1360.9" y1="809.7" x2="1360.9" y2="798.8" stroke="#000" stroke-width="6.8" stroke-linecap="butt"/>
<line x1="1360.9" y1="84.2" x2="1360.9" y2="95.1" stroke="#000" stroke-width="6.8" stroke-linecap="butt"/>
<line x1="1376.3" y1="809.7" x2="1376.3" y2="798.8" stroke="#000" stroke-width="6.8" stroke-linecap="butt"/>
<line x1="1376.3" y1="84.2" x2="1376.3" y2="95.1" stroke="#000" stroke-width="6.8" stroke-linecap="butt"/>
<line x1="1391.8" y1="809.7" x2="1391.8" y2="798.8" stroke="#000" stroke-width="6.8" stroke-linecap="butt"/>
<line x1="1391.8" y1="84.2" x2="1391.8" y2="95.1" stroke="#000" stroke-width="6.8" stroke-linecap="butt"/>
<line x1="1407.2" y1="809.7" x2="1407.2" y2="798.8" stroke="#000" stroke-width="6.8" stroke-linecap="butt"/>
<line x1="1407.2" y1="84.2" x2="1407.2" y2="95.1" stroke="#000" stroke-width="6.8" stroke-linecap="butt"/>
<line x1="1422.7" y1="809.7" x2="1422.7" y2="798.8" stroke="#000" stroke-width="6.8" stroke-linecap="butt"/>
<line x1="1422.7" y1="84.2" x2="1422.7" y2="95.1" stroke="#000" stroke-width="6.8" stroke-linecap="butt"/>
<line x1="1438.2" y1="809.7" x2="1438.2" y2="798.8" stroke="#000" stroke-width="6.8" stroke-linecap="butt"/>
<line x1="1438.2" y1="84.2" x2="1438.2" y2="95.1" stroke="#000" stroke-width="6.8" stroke-linecap="butt"/>
<line x1="1453.6" y1="809.7" x2="1453.6" y2="798.8" stroke="#000" stroke-width="6.8" stroke-linecap="butt"/>
<line x1="1453.6" y1="84.2" x2="1453.6" y2="95.1" stroke="#000" stroke-width="6.8" stroke-linecap="butt"/>
<line x1="1469.1" y1="809.7" x2="1469.1" y2="798.8" stroke="#000" stroke-width="6.8" stroke-linecap="butt"/>
<line x1="1469.1" y1="84.2" x2="1469.1" y2="95.1" stroke="#000" stroke-width="6.8" stroke-linecap="butt"/>
<line x1="1484.5" y1="809.7" x2="1484.5" y2="798.8" stroke="#000" stroke-width="6.8" stroke-linecap="butt"/>
<line x1="1484.5" y1="84.2" x2="1484.5" y2="95.1" stroke="#000" stroke-width="6.8" stroke-linecap="butt"/>
<line x1="1500" y1="809.7" x2="1500" y2="787.5" stroke="#000" stroke-width="6.8" stroke-linecap="butt"/>
<line x1="1500" y1="84.2" x2="1500" y2="106.4" stroke="#000" stroke-width="6.8" stroke-linecap="butt"/>
<line x1="1515.4" y1="809.7" x2="1515.4" y2="798.8" stroke="#000" stroke-width="6.8" stroke-linecap="butt"/>
<line x1="1515.4" y1="84.2" x2="1515.4" y2="95.1" stroke="#000" stroke-width="6.8" stroke-linecap="butt"/>
<line x1="1530.9" y1="809.7" x2="1530.9" y2="798.8" stroke="#000" stroke-width="6.8" stroke-linecap="butt"/>
<line x1="1530.9" y1="84.2" x2="1530.9" y2="95.1" stroke="#000" stroke-width="6.8" stroke-linecap="butt"/>
<line x1="1546.3" y1="809.7" x2="1546.3" y2="798.8" stroke="#000" stroke-width="6.8" stroke-linecap="butt"/>
<line x1="1546.3" y1="84.2" x2="1546.3" y2="95.1" stroke="#000" stroke-width="6.8" stroke-linecap="butt"/>
<line x1="1561.8" y1="809.7" x2="1561.8" y2="798.8" stroke="#000" stroke-width="6.8" stroke-linecap="butt"/>
<line x1="1561.8" y1="84.2" x2="1561.8" y2="95.1" stroke="#000" stroke-width="6.8" stroke-linecap="butt"/>
<line x1="1577.2" y1="809.7" x2="1577.2" y2="798.8" stroke="#000" stroke-width="6.8" stroke-linecap="butt"/>
<line x1="1577.2" y1="84.2" x2="1577.2" y2="95.1" stroke="#000" stroke-width="6.8" stroke-linecap="butt"/>
<line x1="1592.7" y1="809.7" x2="1592.7" y2="798.8" stroke="#000" stroke-width="6.8" stroke-linecap="butt"/>
<line x1="1592.7" y1="84.2" x2="1592.7" y2="95.1" stroke="#000" stroke-width="6.8" stroke-linecap="butt"/>
<line x1="1608.1" y1="809.7" x2="1608.1" y2="798.8" stroke="#000" stroke-width="6.8" stroke-linecap="butt"/>
<line x1="1608.1" y1="84.2" x2="1608.1" y2="95.1" stroke="#000" stroke-width="6.8" stroke-linecap="butt"/>
<line x1="1623.6" y1="809.7" x2="1623.6" y2="798.8" stroke="#000" stroke-width="6.8" stroke-linecap="butt"/>
<line x1="1623.6" y1="84.2" x2="1623.6" y2="95.1" stroke="#000" stroke-width="6.8" stroke-linecap="butt"/>
<line x1="1639" y1="809.7" x2="1639" y2="798.8" stroke="#000" stroke-width="6.8" stroke-linecap="butt"/>
<line x1="1639" y1="84.2" x2="1639" y2="95.1" stroke="#000" stroke-width="6.8" stroke-linecap="butt"/>
<line x1="1654.5" y1="809.7" x2="1654.5" y2="787.5" stroke="#000" stroke-width="6.8" stroke-linecap="butt"/>
<line x1="1654.5" y1="84.2" x2="1654.5" y2="106.4" stroke="#000" stroke-width="6.8" stroke-linecap="butt"/>
<line x1="1669.9" y1="809.7" x2="1669.9" y2="798.8" stroke="#000" stroke-width="6.8" stroke-linecap="butt"/>
<line x1="1669.9" y1="84.2" x2="1669.9" y2="95.1" stroke="#000" stroke-width="6.8" stroke-linecap="butt"/>
<line x1="1685.4" y1="809.7" x2="1685.4" y2="798.8" stroke="#000" stroke-width="6.8" stroke-linecap="butt"/>
<line x1="1685.4" y1="84.2" x2="1685.4" y2="95.1" stroke="#000" stroke-width="6.8" stroke-linecap="butt"/>
<line x1="1700.8" y1="809.7" x2="1700.8" y2="798.8" stroke="#000" stroke-width="6.8" stroke-linecap="butt"/>
<line x1="1700.8" y1="84.2" x2="1700.8" y2="95.1" stroke="#000" stroke-width="6.8" stroke-linecap="butt"/>
<line x1="1716.3" y1="809.7" x2="1716.3" y2="798.8" stroke="#000" stroke-width="6.8" stroke-linecap="butt"/>
<line x1="1716.3" y1="84.2" x2="1716.3" y2="95.1" stroke="#000" stroke-width="6.8" stroke-linecap="butt"/>
<line x1="1731.7" y1="809.7" x2="1731.7" y2="798.8" stroke="#000" stroke-width="6.8" stroke-linecap="butt"/>
<line x1="1731.7" y1="84.2" x2="1731.7" y2="95.1" stroke="#000" stroke-width="6.8" stroke-linecap="butt"/>
<line x1="1747.2" y1="809.7" x2="1747.2" y2="798.8" stroke="#000" stroke-width="6.8" stroke-linecap="butt"/>
<line x1="1747.2" y1="84.2" x2="1747.2" y2="95.1" stroke="#000" stroke-width="6.8" stroke-linecap="butt"/>
<line x1="1762.6" y1="809.7" x2="1762.6" y2="798.8" stroke="#000" stroke-width="6.8" stroke-linecap="butt"/>
<line x1="1762.6" y1="84.2" x2="1762.6" y2="95.1" stroke="#000" stroke-width="6.8" stroke-linecap="butt"/>
<line x1="1778.1" y1="809.7" x2="1778.1" y2="798.8" stroke="#000" stroke-width="6.8" stroke-linecap="butt"/>
<line x1="1778.1" y1="84.2" x2="1778.1" y2="95.1" stroke="#000" stroke-width="6.8" stroke-linecap="butt"/>
<line x1="1793.5" y1="809.7" x2="1793.5" y2="798.8" stroke="#000" stroke-width="6.8" stroke-linecap="butt"/>
<line x1="1793.5" y1="84.2" x2="1793.5" y2="95.1" stroke="#000" stroke-width="6.8" stroke-linecap="butt"/>
<line x1="1036.4" y1="681.2" x2="1047.3" y2="681.2" stroke="#000" stroke-width="6.8" stroke-linecap="butt"/>
<line x1="1809" y1="681.2" x2="1798.1" y2="681.2" stroke="#000" stroke-width="6.8" stroke-linecap="butt"/>
<line x1="1036.4" y1="606" x2="1047.3" y2="606" stroke="#000" stroke-width="6.8" stroke-linecap="butt"/>
<line x1="1809" y1="606" x2="1798.1" y2="606" stroke="#000" stroke-width="6.8" stroke-linecap="butt"/>
<line x1="1036.4" y1="552.6" x2="1047.3" y2="552.6" stroke="#000" stroke-width="6.8" stroke-linecap="butt"/>
<line x1="1809" y1="552.6" x2="1798.1" y2="552.6" stroke="#000" stroke-width="6.8" stroke-linecap="butt"/>
<line x1="1036.4" y1="511.2" x2="1047.3" y2="511.2" stroke="#000" stroke-width="6.8" stroke-linecap="butt"/>
<line x1="1809" y1="511.2" x2="1798.1" y2="511.2" stroke="#000" stroke-width="6.8" stroke-linecap="butt"/>
<line x1="1036.4" y1="477.4" x2="1047.3" y2="477.4" stroke="#000" stroke-width="6.8" stroke-linecap="butt"/>
<line x1="1809" y1="477.4" x2="1798.1" y2="477.4" stroke="#000" stroke-width="6.8" stroke-linecap="butt"/>
<line x1="1036.4" y1="448.8" x2="1047.3" y2="448.8" stroke="#000" stroke-width="6.8" stroke-linecap="butt"/>
<line x1="1809" y1="448.8" x2="1798.1" y2="448.8" stroke="#000" stroke-width="6.8" stroke-linecap="butt"/>
<line x1="1036.4" y1="424.1" x2="1047.3" y2="424.1" stroke="#000" stroke-width="6.8" stroke-linecap="butt"/>
<line x1="1809" y1="424.1" x2="1798.1" y2="424.1" stroke="#000" stroke-width="6.8" stroke-linecap="butt"/>
<line x1="1036.4" y1="402.2" x2="1047.3" y2="402.2" stroke="#000" stroke-width="6.8" stroke-linecap="butt"/>
<line x1="1809" y1="402.2" x2="1798.1" y2="402.2" stroke="#000" stroke-width="6.8" stroke-linecap="butt"/>
<line x1="1036.4" y1="382.7" x2="1058.6" y2="382.7" stroke="#000" stroke-width="6.8" stroke-linecap="butt"/>
<line x1="1809" y1="382.7" x2="1786.8" y2="382.7" stroke="#000" stroke-width="6.8" stroke-linecap="butt"/>
<line x1="1036.4" y1="254.1" x2="1047.3" y2="254.1" stroke="#000" stroke-width="6.8" stroke-linecap="butt"/>
<line x1="1809" y1="254.1" x2="1798.1" y2="254.1" stroke="#000" stroke-width="6.8" stroke-linecap="butt"/>
<line x1="1036.4" y1="178.9" x2="1047.3" y2="178.9" stroke="#000" stroke-width="6.8" stroke-linecap="butt"/>
<line x1="1809" y1="178.9" x2="1798.1" y2="178.9" stroke="#000" stroke-width="6.8" stroke-linecap="butt"/>
<line x1="1036.4" y1="125.6" x2="1047.3" y2="125.6" stroke="#000" stroke-width="6.8" stroke-linecap="butt"/>
<line x1="1809" y1="125.6" x2="1798.1" y2="125.6" stroke="#000" stroke-width="6.8" stroke-linecap="butt"/>
<g clip-path="url(#iclip)">
<path d="M1055.8 84.2 L1056 86 L1056.2 87.9 L1056.4 89.7 L1056.6 91.6 L1056.8 93.4 L1057 95.3 L1057.2 97.1 L1057.4 99 L1057.6 100.8 L1057.8 102.7 L1058.1 104.5 L1058.3 106.3 L1058.5 108.2 L1058.7 110 L1058.9 111.9 L1059.2 113.7 L1059.4 115.6 L1059.6 117.4 L1059.9 119.3 L1060.1 121.1 L1060.3 123 L1060.6 124.8 L1060.8 126.6 L1061.1 128.5 L1061.3 130.3 L1061.6 132.2 L1061.8 134 L1062.1 135.9 L1062.3 137.7 L1062.6 139.6 L1062.8 141.4 L1063.1 143.3 L1063.4 145.1 L1063.6 146.9 L1063.9 148.8 L1064.2 150.6 L1064.5 152.5 L1064.7 154.3 L1065 156.2 L1065.3 158 L1065.6 159.9 L1065.9 161.7 L1066.2 163.5 L1066.5 165.4 L1066.8 167.2 L1067.1 169.1 L1067.4 170.9 L1067.7 172.8 L1068 174.6 L1068.3 176.5 L1068.7 178.3 L1069 180.2 L1069.3 182 L1069.6 183.8 L1070 185.7 L1070.3 187.5 L1070.6 189.4 L1071 191.2 L1071.3 193.1 L1071.7 194.9 L1072 196.8 L1072.4 198.6 L1072.7 200.5 L1073.1 202.3 L1073.5 204.1 L1073.8 206 L1074.2 207.8 L1074.6 209.7 L1075 211.5 L1075.4 213.4 L1075.8 215.2 L1076.1 217.1 L1076.5 218.9 L1076.9 220.8 L1077.4 222.6 L1077.8 224.4 L1078.2 226.3 L1078.6 228.1 L1079 230 L1079.4 231.8 L1079.9 233.7 L1080.3 235.5 L1080.7 237.4 L1081.2 239.2 L1081.6 241.1 L1082.1 242.9 L1082.5 244.7 L1083 246.6 L1083.5 248.4 L1083.9 250.3 L1084.4 252.1 L1084.9 254 L1085.4 255.8 L1085.9 257.7 L1086.4 259.5 L1086.9 261.4 L1087.4 263.2 L1087.9 265 L1088.4 266.9 L1088.9 268.7 L1089.4 270.6 L1090 272.4 L1090.5 274.3 L1091.1 276.1 L1091.6 278 L1092.2 279.8 L1092.7 281.7 L1093.3 283.5 L1093.8 285.3 L1094.4 287.2 L1095 289 L1095.6 290.9 L1096.2 292.7 L1096.8 294.6 L1097.4 296.4 L1098 298.3 L1098.6 300.1 L1099.2 301.9 L1099.9 303.8 L1100.5 305.6 L1101.1 307.5 L1101.8 309.3 L1102.4 311.2 L1103.1 313 L1103.8 314.9 L1104.4 316.7 L1105.1 318.6 L1105.8 320.4 L1106.5 322.2 L1107.2 324.1 L1107.9 325.9 L1108.6 327.8 L1109.3 329.6 L1110.1 331.5 L1110.8 333.3 L1111.5 335.2 L1112.3 337 L1113.1 338.9 L1113.8 340.7 L1114.6 342.5 L1115.4 344.4 L1116.2 346.2 L1117 348.1 L1117.8 349.9 L1118.6 351.8 L1119.4 353.6 L1120.2 355.5 L1121.1 357.3 L1121.9 359.2 L1122.8 361 L1123.6 362.8 L1124.5 364.7 L1125.4 366.5 L1126.3 368.4 L1127.2 370.2 L1128.1 372.1 L1129 373.9 L1129.9 375.8 L1130.9 377.6 L1131.8 379.5 L1132.8 381.3 L1133.7 383.1 L1134.7 385 L1135.7 386.8 L1136.7 388.7 L1137.7 390.5 L1138.7 392.4 L1139.7 394.2 L1140.8 396.1 L1141.8 397.9 L1142.9 399.8 L1143.9 401.6 L1145 403.4 L1146.1 405.3 L1147.2 407.1 L1148.3 409 L1149.4 410.8 L1150.5 412.7 L1151.7 414.5 L1152.8 416.4 L1154 418.2 L1155.2 420 L1156.4 421.9 L1157.6 423.7 L1158.8 425.6 L1160 427.4 L1161.2 429.3 L1162.5 431.1 L1163.7 433 L1165 434.8 L1166.3 436.7 L1167.6 438.5 L1168.9 440.3 L1170.2 442.2 L1171.6 444 L1172.9 445.9 L1174.3 447.7 L1175.7 449.6 L1177.1 451.4 L1178.5 453.3 L1179.9 455.1 L1181.3 457 L1182.8 458.8 L1184.2 460.6 L1185.7 462.5 L1187.2 464.3 L1188.7 466.2 L1190.2 468 L1191.8 469.9 L1193.3 471.7 L1194.9 473.6 L1196.5 475.4 L1198.1 477.3 L1199.7 479.1 L1201.3 480.9 L1203 482.8 L1204.6 484.6 L1206.3 486.5 L1208 488.3 L1209.7 490.2 L1211.5 492 L1213.2 493.9 L1215 495.7 L1216.8 497.6 L1218.6 499.4 L1220.4 501.2 L1222.2 503.1 L1224.1 504.9 L1226 506.8 L1227.9 508.6 L1229.8 510.5 L1231.7 512.3 L1233.7 514.2 L1235.6 516 L1237.6 517.9 L1239.7 519.7 L1241.7 521.5 L1243.7 523.4 L1245.8 525.2 L1247.9 527.1 L1250 528.9 L1252.2 530.8 L1254.3 532.6 L1256.5 534.5 L1258.7 536.3 L1260.9 538.2 L1263.2 540 L1265.4 541.8 L1267.7 543.7 L1270 545.5 L1272.4 547.4 L1274.7 549.2 L1277.1 551.1 L1279.5 552.9 L1282 554.8 L1284.4 556.6 L1286.9 558.4 L1289.4 560.3 L1291.9 562.1 L1294.5 564 L1297.1 565.8 L1299.7 567.7 L1302.3 569.5 L1305 571.4 L1307.6 573.2 L1310.4 575.1 L1313.1 576.9 L1315.9 578.7 L1318.7 580.6 L1321.5 582.4 L1324.3 584.3 L1327.2 586.1 L1330.1 588 L1333.1 589.8 L1336 591.7 L1339 593.5 L1342 595.4 L1345.1 597.2 L1348.2 599 L1351.3 600.9 L1354.5 602.7 L1357.6 604.6 L1360.8 606.4 L1364.1 608.3 L1367.4 610.1 L1370.7 612 L1374 613.8 L1377.4 615.7 L1380.8 617.5 L1384.3 619.3 L1387.7 621.2 L1391.2 623 L1394.8 624.9 L1398.4 626.7 L1402 628.6 L1405.7 630.4 L1409.3 632.3 L1413.1 634.1 L1416.8 636 L1420.6 637.8 L1424.5 639.6 L1428.4 641.5 L1432.3 643.3 L1436.2 645.2 L1440.2 647 L1444.3 648.9 L1448.4 650.7 L1452.5 652.6 L1456.6 654.4 L1460.8 656.3 L1465.1 658.1 L1469.4 659.9 L1473.7 661.8 L1478.1 663.6 L1482.5 665.5 L1487 667.3 L1491.5 669.2 L1496 671 L1500.6 672.9 L1505.3 674.7 L1509.9 676.6 L1514.7 678.4 L1519.5 680.2 L1524.3 682.1 L1529.2 683.9 L1534.1 685.8 L1539.1 687.6 L1544.1 689.5 L1549.2 691.3 L1554.3 693.2 L1559.5 695 L1564.7 696.8 L1570 698.7 L1575.3 700.5 L1580.7 702.4 L1586.2 704.2 L1591.7 706.1 L1597.2 707.9 L1602.8 709.8 L1608.5 711.6 L1614.2 713.5 L1620 715.3 L1625.8 717.1 L1631.7 719 L1637.7 720.8 L1643.7 722.7 L1649.8 724.5 L1655.9 726.4 L1662.1 728.2 L1668.3 730.1 L1674.7 731.9 L1681 733.8 L1687.5 735.6 L1694 737.4 L1700.6 739.3 L1707.2 741.1 L1713.9 743 L1720.7 744.8 L1727.5 746.7 L1734.5 748.5 L1741.4 750.4 L1748.5 752.2 L1755.6 754.1 L1762.8 755.9 L1770.1 757.7 L1777.4 759.6 L1784.8 761.4 L1792.3 763.3 L1799.9 765.1 L1807.5 767 L1809 767.3" fill="none" stroke="#000" stroke-width="7.0" stroke-linejoin="round" stroke-linecap="round"/>
<path d="M1082.8 162 L1107.1 222 L1125.3 290.3 L1145 319.1 L1163.2 341.9 L1175.4 366.2 L1248.8 417.9 L1374.3 493.8 L1382.4 504 L1406.7 548.5 L1439.1 572.8 L1480 609.5 L1500.2 630.8 L1544.8 652 L1561 665.2 L1682.4 706.7 L1763.3 737 L1809.9 748.2" fill="none" stroke="#00FF00" stroke-width="7.3" stroke-linejoin="round" stroke-linecap="round"/>
<path d="M1082.8 187.1 L1114.6 246.3 L1126.8 276.6 L1145 314.6 L1166.3 335.8 L1218.5 380.5 L1281.2 445.3 L1333.8 471.6 L1382.4 499.9 L1422.3 519.1 L1480 558.9 L1514.4 595.4 L1546.8 614.6 L1593.3 663.2 L1686.4 712.7 L1712.7 716.8 L1763.3 743.1 L1809.9 756.3" fill="none" stroke="#800000" stroke-width="7.3" stroke-linejoin="round" stroke-linecap="round"/>
<path d="M1099.5 216.7 L1145 279.7 L1166.3 308.5 L1186.1 340 L1240.7 402.8 L1275.1 435.1 L1329.8 473.6 L1362.2 491.8 L1480 546.8 L1561.6 589.3 L1607.5 621.7 L1668.2 676.3 L1733 706.7 L1809.9 735" fill="none" stroke="#FF80FF" stroke-width="7.3" stroke-linejoin="round" stroke-linecap="round"/>
<path d="M1113.9 248.5 L1145 285.7 L1192.1 340 L1224.5 378.5 L1281.2 425 L1374.3 493.8 L1480 545.8 L1561 575.1 L1652 609.5 L1685 634.4 L1722.9 664.2 L1763.3 688.5 L1809.9 710.7" fill="none" stroke="#FF8000" stroke-width="7.3" stroke-linejoin="round" stroke-linecap="round"/>
<path d="M1145 291 L1198.2 340 L1281.2 421 L1390.5 493.8 L1480 536.7 L1500.2 546.8 L1601.4 588.3 L1716.8 623.7 L1795.7 637.9 L1809.9 637.9" fill="none" stroke="#008080" stroke-width="7.3" stroke-linejoin="round" stroke-linecap="round"/>
</g>
<circle cx="1376" cy="494.3" r="10.2" fill="none" stroke="#00FF00" stroke-width="4.2"/>
<circle cx="1422.3" cy="519.1" r="10" fill="none" stroke="#800000" stroke-width="4.2"/>
<circle cx="1561.6" cy="589.3" r="10" fill="none" stroke="#FF80FF" stroke-width="4.2"/>
<circle cx="1685" cy="634.4" r="10" fill="none" stroke="#FF8000" stroke-width="4.2"/>
<rect x="1036.4" y="84.2" width="772.6" height="725.5" fill="none" stroke="#000" stroke-width="7.3"/>
<text transform="translate(1012.3,397.9) scale(1,1.03)" font-size="53" text-anchor="end" font-family="'Liberation Sans', Arial, sans-serif">1000</text>
<text transform="translate(1012.1,824.6) scale(1,1.03)" font-size="53" text-anchor="end" font-family="'Liberation Sans', Arial, sans-serif">100</text>
<text transform="translate(1036.4,866.9) scale(1,1.03)" font-size="53" text-anchor="middle" font-family="'Liberation Sans', Arial, sans-serif">0</text>
<text transform="translate(1190.9,874.7) scale(1,1.03)" font-size="53" text-anchor="middle" font-family="'Liberation Sans', Arial, sans-serif">0.01</text>
<text transform="translate(1345.4,874.7) scale(1,1.03)" font-size="53" text-anchor="middle" font-family="'Liberation Sans', Arial, sans-serif">0.02</text>
<text transform="translate(1500,874.7) scale(1,1.03)" font-size="53" text-anchor="middle" font-family="'Liberation Sans', Arial, sans-serif">0.03</text>
<text transform="translate(1654.5,874.7) scale(1,1.03)" font-size="53" text-anchor="middle" font-family="'Liberation Sans', Arial, sans-serif">0.04</text>
<text transform="translate(1809,874.7) scale(1,1.03)" font-size="53" text-anchor="middle" font-family="'Liberation Sans', Arial, sans-serif">0.05</text>
<rect x="1493.8" y="133" width="275.9" height="341" fill="#fff" stroke="#000" stroke-width="6.5"/>
<line x1="1501" y1="161.1" x2="1593.8" y2="161.1" stroke="#000" stroke-width="7.9" stroke-linecap="round"/>
<line x1="1501" y1="213.2" x2="1593.8" y2="213.2" stroke="#008080" stroke-width="7.9" stroke-linecap="round"/>
<line x1="1501" y1="270.9" x2="1593.8" y2="270.9" stroke="#FF8000" stroke-width="7.9" stroke-linecap="round"/>
<line x1="1501" y1="328.2" x2="1593.8" y2="328.2" stroke="#FF80FF" stroke-width="7.9" stroke-linecap="round"/>
<line x1="1501" y1="386" x2="1593.8" y2="386" stroke="#800000" stroke-width="7.9" stroke-linecap="round"/>
<line x1="1501" y1="444" x2="1593.8" y2="444" stroke="#00FF00" stroke-width="7.9" stroke-linecap="round"/>
<text transform="translate(1607.3,176.2) scale(1,1.03)" font-size="41.6" text-anchor="start" font-family="'Liberation Sans', Arial, sans-serif">Theory</text>
<text transform="translate(1607.3,227.6) scale(1,1.03)" font-size="41.6" font-family="'Liberation Sans', Arial, sans-serif">w = 40 <tspan font-family="'Liberation Serif', 'Times New Roman', serif">&#958;</tspan></text>
<text transform="translate(1607.3,285.4) scale(1,1.03)" font-size="41.6" font-family="'Liberation Sans', Arial, sans-serif">w = 50 <tspan font-family="'Liberation Serif', 'Times New Roman', serif">&#958;</tspan></text>
<text transform="translate(1607.3,342.3) scale(1,1.03)" font-size="41.6" font-family="'Liberation Sans', Arial, sans-serif">w = 60 <tspan font-family="'Liberation Serif', 'Times New Roman', serif">&#958;</tspan></text>
<text transform="translate(1607.3,400) scale(1,1.03)" font-size="41.6" font-family="'Liberation Sans', Arial, sans-serif">w = 70 <tspan font-family="'Liberation Serif', 'Times New Roman', serif">&#958;</tspan></text>
<text transform="translate(1607.3,458.1) scale(1,1.03)" font-size="41.6" font-family="'Liberation Sans', Arial, sans-serif">w = 80 <tspan font-family="'Liberation Serif', 'Times New Roman', serif">&#958;</tspan></text>
</svg>
</body></html>
